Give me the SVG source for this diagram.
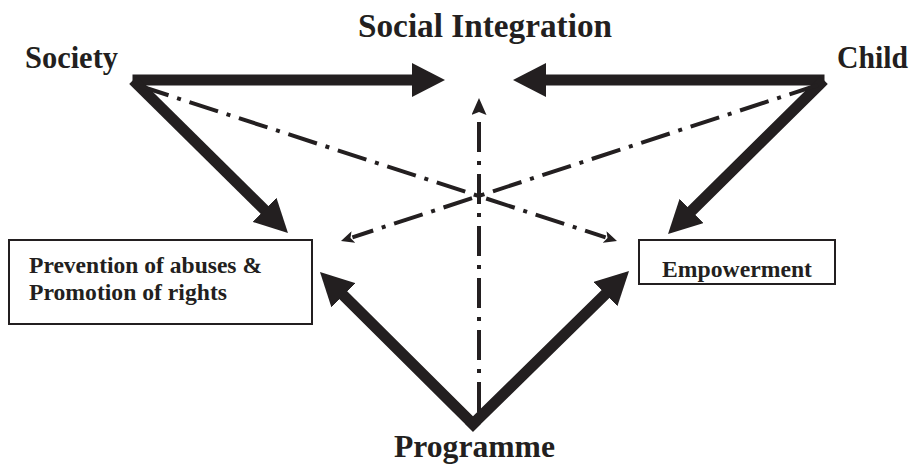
<svg xmlns="http://www.w3.org/2000/svg" width="913" height="465" viewBox="0 0 913 465">
<style>
  text { font-family: "Liberation Serif", "DejaVu Serif", "Times New Roman", serif; font-weight: 700; fill: #231f20; }
  .box { fill: #ffffff; stroke: #231f20; stroke-width: 2; }
  .thick { stroke: #231f20; stroke-width: 11; fill: none; stroke-linecap: square; }
  .dd { stroke: #231f20; stroke-width: 4; fill: none; stroke-dasharray: 30 9 4 9; }
</style>
<defs>
  <marker id="big" markerUnits="userSpaceOnUse" viewBox="0 0 33 34" refX="1" refY="17" markerWidth="33" markerHeight="34" orient="auto">
    <path d="M0,0 L33,17 L0,34 Z" fill="#231f20" stroke="none"/>
  </marker>
  <marker id="small" markerUnits="userSpaceOnUse" viewBox="0 0 13 12" refX="1" refY="6" markerWidth="13" markerHeight="12" orient="auto">
    <path d="M0,0 L13,6 L0,12 L3,6 Z" fill="#231f20" stroke="none"/>
  </marker>
  <marker id="vsmall" markerUnits="userSpaceOnUse" viewBox="0 0 17 15" refX="1" refY="7.5" markerWidth="17" markerHeight="15" orient="auto">
    <path d="M0,0 L17,7.5 L0,15 L3,7.5 Z" fill="#231f20" stroke="none"/>
  </marker>
</defs>
<rect width="913" height="465" fill="#ffffff"/>

<g id="connectors">
  <line class="thick" x1="138" y1="80" x2="413" y2="80" marker-end="url(#big)"/>
  <line class="thick" x1="819" y1="80" x2="545" y2="80" marker-end="url(#big)"/>
  <line class="thick" x1="137" y1="84" x2="265.2" y2="210.5" marker-end="url(#big)"/>
  <line class="thick" x1="820" y1="84" x2="690.8" y2="211.6" marker-end="url(#big)"/>
  <line class="thick" x1="473" y1="424" x2="342.7" y2="294.6" marker-end="url(#big)"/>
  <line class="thick" x1="473" y1="424" x2="606.2" y2="293.4" marker-end="url(#big)"/>
  <line class="dd" x1="140" y1="86" x2="605.6" y2="237.3" marker-end="url(#small)"/>
  <line class="dd" x1="818" y1="85" x2="352.4" y2="237.3" marker-end="url(#small)"/>
  <line class="dd" x1="479" y1="412" x2="479" y2="114" marker-end="url(#vsmall)"/>
</g>

<g id="social-integration">
  <text x="358" y="37" font-size="33" textLength="254" lengthAdjust="spacingAndGlyphs">Social Integration</text>
</g>
<g id="society">
  <text x="25" y="68" font-size="31" textLength="93" lengthAdjust="spacingAndGlyphs">Society</text>
</g>
<g id="child">
  <text x="837" y="68" font-size="31" textLength="71" lengthAdjust="spacingAndGlyphs">Child</text>
</g>
<g id="programme">
  <text x="394" y="457" font-size="32" textLength="161" lengthAdjust="spacingAndGlyphs">Programme</text>
</g>
<g id="prevention">
  <rect class="box" x="9" y="240" width="303" height="84"/>
  <text x="29" y="273" font-size="23.5" textLength="233" lengthAdjust="spacingAndGlyphs">Prevention of abuses &amp;</text>
  <text x="29" y="300" font-size="23.5" textLength="198" lengthAdjust="spacingAndGlyphs">Promotion of rights</text>
</g>
<g id="empowerment">
  <rect class="box" x="639" y="240" width="196" height="44"/>
  <text x="662" y="277" font-size="23.5" textLength="150" lengthAdjust="spacingAndGlyphs">Empowerment</text>
</g>
</svg>
